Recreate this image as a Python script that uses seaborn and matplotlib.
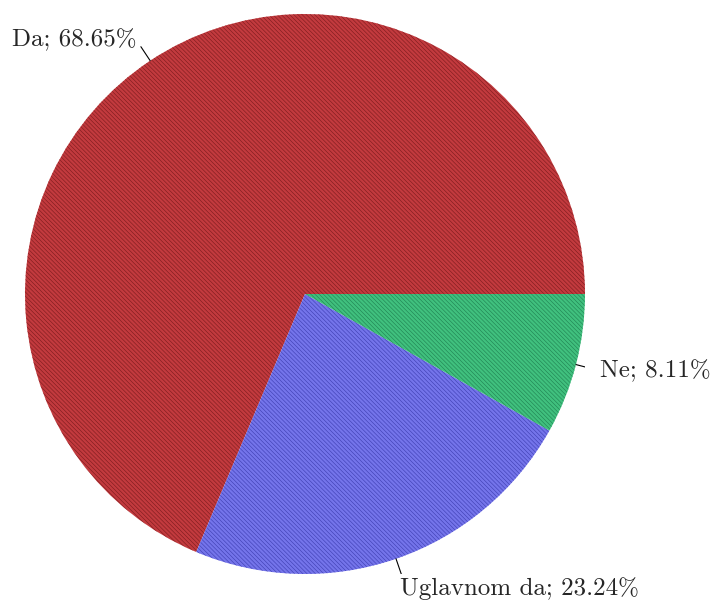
import matplotlib
matplotlib.use("Agg")
import matplotlib.pyplot as plt
import seaborn as sns
import numpy as np

# --- dati ---
categorie = ['Da', 'Uglavnom da', 'Ne']
percentuali = [68.65, 23.24, 8.11]
colori = ['#c23a3e', '#7474ea', '#40c07e']
colori_tratteggio = ['#7a1a1c', '#3c3cb0', '#1f8050']

sns.set_style('white')
plt.rcParams['font.family'] = 'serif'
plt.rcParams['font.serif'] = ['cmr10', 'DejaVu Serif']
plt.rcParams['axes.formatter.use_mathtext'] = True
plt.rcParams['hatch.linewidth'] = 0.4

fig = plt.figure(figsize=(7.17, 6.01), dpi=100)
ax = fig.add_axes([25 / 717, 27 / 601, 560 / 717, 560 / 601])

wedges, _ = ax.pie(percentuali, colors=colori, startangle=0, counterclock=True,
                   radius=1.0, wedgeprops=dict(linewidth=0))
for w, hc in zip(wedges, colori_tratteggio):
    w.set_edgecolor(hc)
    w.set_linewidth(0)
    w.set_hatch('\\\\\\\\\\\\\\\\')

# etichette con piccola linea di richiamo
for w, nome, p in zip(wedges, categorie, percentuali):
    ang = np.deg2rad((w.theta1 + w.theta2) / 2)
    c, s = np.cos(ang), np.sin(ang)
    ax.plot([c * 1.0, c * 1.06], [s * 1.0, s * 1.06], color='black', lw=0.8)
    ha = 'left' if c > 0 else 'right'
    va = 'top' if s < -0.8 else 'center'
    tx, ty = c * 1.09, s * 1.09
    if va == 'top':
        tx, ty = c * 1.04, s * 1.07
    ax.text(tx, ty, f'{nome}; {p:.2f}%', ha=ha, va=va, fontsize=18)

ax.set_xlim(-1, 1)
ax.set_ylim(-1, 1)
ax.set_aspect('equal')
ax.axis('off')

plt.savefig('out.png', dpi=100)
